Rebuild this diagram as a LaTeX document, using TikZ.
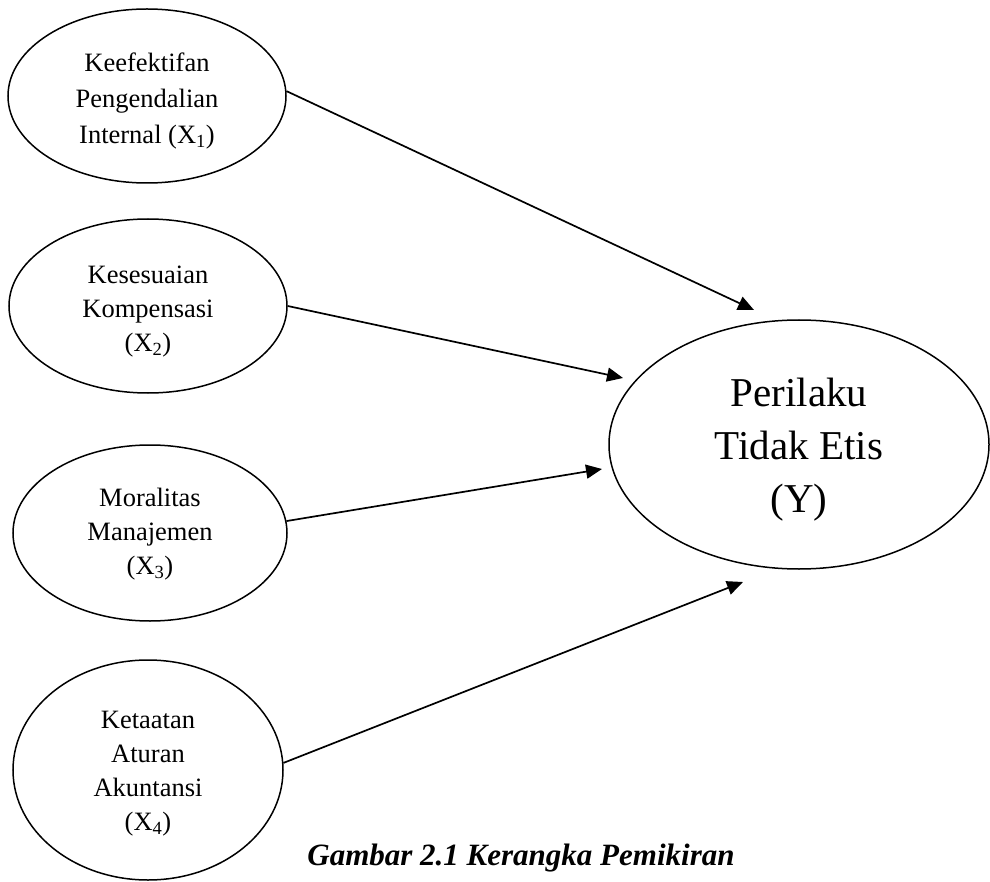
\documentclass[tikz,border=0pt]{standalone}
\usepackage{fontspec}
\setmainfont{Liberation Serif}
\usetikzlibrary{shapes.geometric,arrows.meta}
\begin{document}
\begin{tikzpicture}[x=1pt,y=-1pt,
  varbox/.style={draw, line width=1.5pt, ellipse, inner sep=0pt},
  vartext/.style={inner sep=0pt, align=center},
  small/.style={font=\fontsize{26.5}{34}\selectfont},
  big/.style={font=\fontsize{41}{53}\selectfont},
  arr/.style={line width=1.7pt, -{Triangle[length=16pt,width=14pt]}}]
\useasboundingbox (0,0) rectangle (990,882);
\node[varbox, minimum width=278pt, minimum height=174pt] (x1) at (147,96) {};
\node[vartext, small] (x1t) at ([yshift=-5pt]x1.center)
  {Keefektifan\\[2pt]Pengendalian\\[2pt]Internal (X\textsubscript{1})};
\node[varbox, minimum width=278pt, minimum height=174pt] (x2) at (148,306) {};
\node[vartext, small] (x2t) at ([yshift=-6pt]x2.center)
  {Kesesuaian\\Kompensasi\\(X\textsubscript{2})};
\node[varbox, minimum width=274pt, minimum height=176pt] (x3) at (150,533) {};
\node[vartext, small] (x3t) at ([yshift=-1pt]x3.center)
  {Moralitas\\Manajemen\\(X\textsubscript{3})};
\node[varbox, minimum width=270pt, minimum height=220pt] (x4) at (148,770) {};
\node[vartext, small] (x4t) at ([yshift=-4pt]x4.center)
  {Ketaatan\\Aturan\\Akuntansi\\(X\textsubscript{4})};
\node[varbox, minimum width=380pt, minimum height=249pt] (y) at (799,444.5) {};
\node[vartext, big] (yt) at ([yshift=-5pt]y.center)
  {Perilaku\\Tidak Etis\\(Y)};
\node[anchor=base, font=\fontsize{31}{36}\selectfont\bfseries\itshape] (cap) at (521,865)
  {Gambar 2.1 Kerangka Pemikiran};
\coordinate (t1) at (754,310);
\coordinate (t2) at (623,378);
\coordinate (t3) at (602,469);
\coordinate (t4) at (743,582);
\draw[arr] (x1.2) -- (t1);
\draw[arr] (x2.east) -- (t2);
\draw[arr] (x3.5) -- (t3);
\draw[arr] (x4.3) -- (t4);
\end{tikzpicture}
\end{document}
